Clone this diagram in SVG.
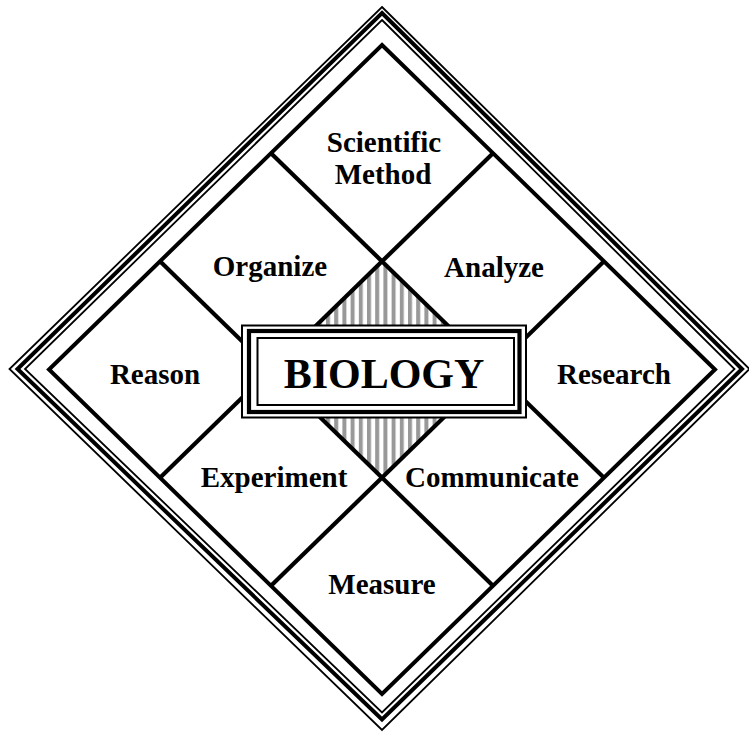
<svg xmlns="http://www.w3.org/2000/svg" width="749" height="734" viewBox="0 0 749 734">
  <style>
    .thin { fill: none; stroke: #000; stroke-width: 1.8; stroke-linejoin: miter; stroke-miterlimit: 10; }
    .thick { fill: none; stroke: #000; stroke-width: 4; stroke-linejoin: miter; stroke-miterlimit: 10; }
    .grid { stroke: #000; stroke-width: 4.2; stroke-linecap: butt; }
    .lbl { font-family: "Liberation Serif", "Times New Roman", serif; font-weight: bold; font-size: 29px; fill: #000; text-anchor: middle; }
    .title { font-family: "Liberation Serif", "Times New Roman", serif; font-weight: bold; font-size: 42px; fill: #000; text-anchor: middle; }
  </style>
  <defs>
    <pattern id="stripes" patternUnits="userSpaceOnUse" x="326" y="0" width="8.2" height="10">
      <rect x="0" y="0" width="4" height="10" fill="#999"/>
    </pattern>
  </defs>
  <rect x="0" y="0" width="749" height="734" fill="#fff"/>

  <g id="frame">
    <polygon class="thin" points="382,7 749.5,369 382,730 9.5,369"/>
    <polygon class="thick" points="382,13 742,369 382,719.5 17.5,369"/>
    <polygon class="thin" points="382,20 734.5,369 382,712.5 25,369"/>
    <polygon class="thick" points="382,45 715,369.5 382,694 49,369.5" stroke-width="4.5"/>
  </g>

  <polygon id="center-fill" points="382,261.3 493,369.5 382,477.7 271,369.5" fill="url(#stripes)"/>

  <g id="connectors">
    <line class="grid" x1="271" y1="153.2" x2="604" y2="477.7"/>
    <line class="grid" x1="160" y1="261.3" x2="493" y2="585.8"/>
    <line class="grid" x1="493" y1="153.2" x2="160" y2="477.7"/>
    <line class="grid" x1="604" y1="261.3" x2="271" y2="585.8"/>
  </g>

  <g id="biology">
    <rect x="242" y="325.5" width="284" height="92" fill="#fff" stroke="#000" stroke-width="2"/>
    <rect x="249" y="331" width="270.5" height="81" fill="none" stroke="#000" stroke-width="4.2"/>
    <rect x="257.5" y="338" width="256.5" height="67" fill="none" stroke="#000" stroke-width="2"/>
    <text class="title" x="384" y="388">BIOLOGY</text>
  </g>

  <g id="scientific-method">
    <text class="lbl" x="384" y="152">Scientific</text>
    <text class="lbl" x="383" y="184">Method</text>
  </g>
  <g id="organize"><text class="lbl" x="270" y="276">Organize</text></g>
  <g id="analyze"><text class="lbl" x="494" y="277">Analyze</text></g>
  <g id="reason"><text class="lbl" x="155" y="384">Reason</text></g>
  <g id="research"><text class="lbl" x="614" y="384">Research</text></g>
  <g id="experiment"><text class="lbl" x="274" y="487">Experiment</text></g>
  <g id="communicate"><text class="lbl" x="492" y="487">Communicate</text></g>
  <g id="measure"><text class="lbl" x="382" y="594">Measure</text></g>
</svg>
